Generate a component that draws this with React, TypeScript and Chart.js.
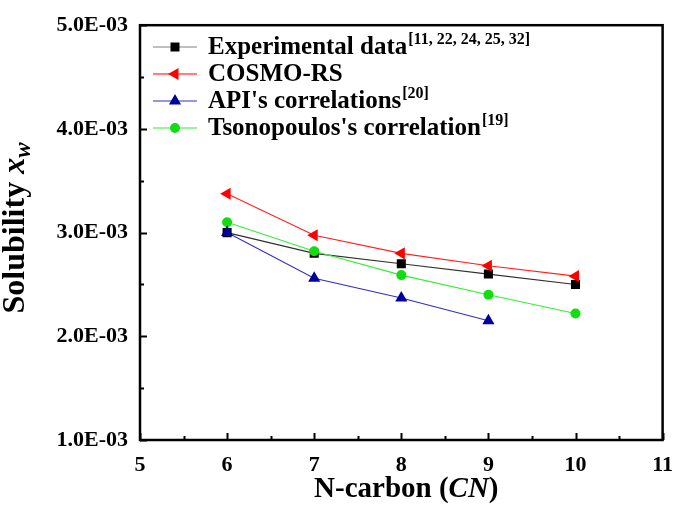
import React, { useEffect, useRef } from "react";
import { Chart, registerables } from "chart.js";

Chart.register(...registerables);

const carbonNumbers = [6, 7, 8, 9, 10];
const experimental = [3.0e-3, 2.8e-3, 2.7e-3, 2.6e-3, 2.5e-3];
const cosmoRS = [3.375e-3, 2.975e-3, 2.8e-3, 2.68e-3, 2.58e-3];
const apiCorrelations = [3.0e-3, 2.56e-3, 2.37e-3, 2.15e-3];
const tsonopoulos = [3.1e-3, 2.82e-3, 2.59e-3, 2.4e-3, 2.22e-3];

const yTickValues = [1e-3, 2e-3, 3e-3, 4e-3, 5e-3];
const yTickLabels = ["1.0E-03", "2.0E-03", "3.0E-03", "4.0E-03", "5.0E-03"];

const legendItems = [
  { main: "Experimental data", sup: "[11, 22, 24, 25, 32]", color: "#000000", line: "#808080", shape: "rect" },
  { main: "COSMO-RS", sup: "", color: "#ff0000", line: "#ff0000", shape: "triLeft" },
  { main: "API's correlations", sup: "[20]", color: "#0000a0", line: "#3030c0", shape: "tri" },
  { main: "Tsonopoulos's correlation", sup: "[19]", color: "#11dd11", line: "#33ee33", shape: "circle" },
];

const FONT = '"Liberation Serif", "Times New Roman", serif';

function toPoints(values: number[]) {
  return values.map((y, i) => ({ x: carbonNumbers[i], y }));
}

function drawMarker(ctx: CanvasRenderingContext2D, shape: string, x: number, y: number, color: string) {
  ctx.fillStyle = color;
  ctx.beginPath();
  if (shape === "rect") {
    ctx.rect(x - 4.5, y - 4.5, 9, 9);
  } else if (shape === "circle") {
    ctx.arc(x, y, 5, 0, Math.PI * 2);
  } else if (shape === "tri") {
    const r = 7;
    ctx.moveTo(x, y - r);
    ctx.lineTo(x + r * 0.866, y + r * 0.5);
    ctx.lineTo(x - r * 0.866, y + r * 0.5);
    ctx.closePath();
  } else if (shape === "triLeft") {
    const r = 7;
    ctx.moveTo(x - r, y);
    ctx.lineTo(x + r * 0.5, y - r * 0.866);
    ctx.lineTo(x + r * 0.5, y + r * 0.866);
    ctx.closePath();
  }
  ctx.fill();
}

const framePlugin = {
  id: "frameAndText",
  afterDraw(chart: any) {
    const ctx: CanvasRenderingContext2D = chart.ctx;
    const { left, right, top, bottom } = chart.chartArea;
    const xs = chart.scales.x;
    const ys = chart.scales.y;
    ctx.save();
    // frame
    ctx.strokeStyle = "#000";
    ctx.lineWidth = 2.5;
    ctx.strokeRect(left, top, right - left, bottom - top);
    // inward ticks
    ctx.lineWidth = 2;
    for (let v = 5; v <= 11.001; v += 0.5) {
      const px = Math.round(xs.getPixelForValue(v)) + 0.5;
      const major = Math.abs(v - Math.round(v)) < 1e-6;
      ctx.beginPath();
      ctx.moveTo(px, bottom);
      ctx.lineTo(px, bottom - (major ? 7 : 4));
      ctx.stroke();
    }
    for (let k = 0; k <= 8; k++) {
      const v = 1e-3 + k * 0.5e-3;
      const py = Math.round(ys.getPixelForValue(v)) + 0.5;
      ctx.beginPath();
      ctx.moveTo(left, py);
      ctx.lineTo(left + (k % 2 === 0 ? 7 : 4), py);
      ctx.stroke();
    }

    // x title
    const xParts = [
      { t: "N-carbon (", f: `bold 29px ${FONT}` },
      { t: "CN", f: `italic bold 29px ${FONT}` },
      { t: ")", f: `bold 29px ${FONT}` },
    ];
    let total = 0;
    xParts.forEach((p) => {
      ctx.font = p.f;
      total += ctx.measureText(p.t).width;
    });
    let cx = (left + right) / 2 + 5 - total / 2;
    ctx.fillStyle = "#000";
    ctx.textBaseline = "alphabetic";
    ctx.textAlign = "left";
    xParts.forEach((p) => {
      ctx.font = p.f;
      ctx.fillText(p.t, cx, 497);
      cx += ctx.measureText(p.t).width;
    });

    // y title
    ctx.save();
    ctx.translate(24, 228);
    ctx.rotate(-Math.PI / 2);
    const yParts = [
      { t: "Solubility ", f: `bold 32px ${FONT}`, dy: 0 },
      { t: "x", f: `italic bold 32px ${FONT}`, dy: 0 },
      { t: "w", f: `italic bold 23px ${FONT}`, dy: 6 },
    ];
    total = 0;
    yParts.forEach((p) => {
      ctx.font = p.f;
      total += ctx.measureText(p.t).width;
    });
    let tx = -total / 2;
    yParts.forEach((p) => {
      ctx.font = p.f;
      ctx.fillText(p.t, tx, p.dy);
      tx += ctx.measureText(p.t).width;
    });
    ctx.restore();

    // legend
    const rowY = [47, 74, 101, 128];
    legendItems.forEach((item, i) => {
      const y = rowY[i];
      ctx.strokeStyle = item.line;
      ctx.lineWidth = 1.2;
      ctx.beginPath();
      ctx.moveTo(153, y);
      ctx.lineTo(197, y);
      ctx.stroke();
      drawMarker(ctx, item.shape, 175, y, item.color);
      ctx.fillStyle = "#000";
      ctx.textBaseline = "middle";
      ctx.font = `bold 25px ${FONT}`;
      ctx.fillText(item.main, 208, y + 1);
      const w = ctx.measureText(item.main).width;
      if (item.sup) {
        ctx.font = `bold 16px ${FONT}`;
        ctx.fillText(item.sup, 208 + w + 1, y - 7);
      }
    });
    ctx.restore();
  },
};

export default function App() {
  const canvasRef = useRef<HTMLCanvasElement | null>(null);

  useEffect(() => {
    if (!canvasRef.current) return;
    const tickFont = { family: FONT, size: 22, weight: "bold" as const };
    const chart = new Chart(canvasRef.current, {
      type: "line",
      data: {
        datasets: [
          {
            label: "Experimental data",
            data: toPoints(experimental),
            borderColor: "#303030",
            backgroundColor: "#000000",
            pointBackgroundColor: "#000000",
            pointBorderColor: "#000000",
            pointStyle: "rect",
            pointRadius: 6.4,
            borderWidth: 1.1,
            pointBorderWidth: 0,
            order: 3,
          },
          {
            label: "COSMO-RS",
            data: toPoints(cosmoRS),
            borderColor: "#ff2020",
            backgroundColor: "#ff0000",
            pointBackgroundColor: "#ff0000",
            pointBorderColor: "#ff0000",
            pointStyle: "triangle",
            pointRotation: -90,
            pointRadius: 7,
            borderWidth: 1.1,
            pointBorderWidth: 0,
            order: 2,
          },
          {
            label: "API's correlations",
            data: toPoints(apiCorrelations),
            borderColor: "#3030c0",
            backgroundColor: "#0000a0",
            pointBackgroundColor: "#0000a0",
            pointBorderColor: "#0000a0",
            pointStyle: "triangle",
            pointRadius: 7,
            borderWidth: 1.1,
            pointBorderWidth: 0,
            order: 0,
          },
          {
            label: "Tsonopoulos's correlation",
            data: toPoints(tsonopoulos),
            borderColor: "#33ee33",
            backgroundColor: "#11dd11",
            pointBackgroundColor: "#11dd11",
            pointBorderColor: "#11dd11",
            pointStyle: "circle",
            pointRadius: 5,
            borderWidth: 1.1,
            pointBorderWidth: 0,
            order: 1,
          },
        ],
      },
      options: {
        animation: false,
        responsive: true,
        maintainAspectRatio: false,
        layout: { padding: { top: 14, right: 16, left: 0, bottom: 0 } },
        plugins: {
          legend: { display: false },
          tooltip: { enabled: false },
        },
        scales: {
          x: {
            type: "linear",
            min: 5,
            max: 11,
            grid: { display: false, drawTicks: false },
            border: { display: false },
            ticks: { stepSize: 1, color: "#000", font: tickFont, padding: 12 },
            afterFit: (scale: any) => {
              scale.height = 69;
            },
          },
          y: {
            type: "linear",
            min: 1e-3,
            max: 5e-3,
            grid: { display: false, drawTicks: false },
            border: { display: false },
            ticks: {
              stepSize: 1e-3,
              color: "#000",
              font: tickFont,
              padding: 12,
              callback: (value: any) => {
                const i = yTickValues.findIndex((t) => Math.abs(t - Number(value)) < 1e-9);
                return i >= 0 ? yTickLabels[i] : "";
              },
            },
            afterFit: (scale: any) => {
              scale.width = 140;
            },
          },
        },
      },
      plugins: [framePlugin],
    });
    return () => chart.destroy();
  }, []);

  return (
    <div style={{ position: "fixed", left: 0, top: 0, width: 685, height: 509, background: "#fff" }}>
      <canvas ref={canvasRef} />
    </div>
  );
}
